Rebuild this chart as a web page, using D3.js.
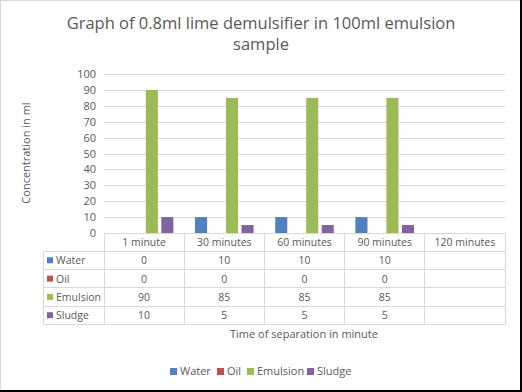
<!DOCTYPE html>
<html>
<head>
<meta charset="utf-8">
<script src="https://cdn.jsdelivr.net/npm/d3@7"></script>
<style>
  body { margin: 0; background: #fff; }
  svg text { font-family: "Open Sans", "Liberation Sans", sans-serif; fill: #595959; }
</style>
</head>
<body>
<div id="chart"></div>
<script>
// chart data
const categories = ["1 minute", "30 minutes", "60 minutes", "90 minutes", "120 minutes"];
const seriesNames = ["Water", "Oil", "Emulsion", "Sludge"];
const water    = [0, 10, 10, 10, null];
const oil      = [0, 0, 0, 0, null];
const emulsion = [90, 85, 85, 85, null];
const sludge   = [10, 5, 5, 5, null];
const yTicks = [0, 10, 20, 30, 40, 50, 60, 70, 80, 90, 100];

const seriesValues = [water, oil, emulsion, sludge];
const colors = ["#4F81BD", "#C0504D", "#9BBB59", "#8064A2"];

const W = 522, H = 392;
const svg = d3.select("#chart").append("svg")
    .attr("width", W)
    .attr("height", H);

svg.append("rect").attr("width", W).attr("height", H).attr("fill", "#fff");

// outer border
svg.append("rect")
    .attr("x", 0.5).attr("y", 0.5)
    .attr("width", W - 2).attr("height", H - 2)
    .attr("fill", "none").attr("stroke", "#d9d9d9");
svg.append("line").attr("x1", W - 1).attr("x2", W - 1).attr("y1", 0).attr("y2", H)
    .attr("stroke", "#000").attr("stroke-width", 2);
svg.append("line").attr("x1", 0).attr("x2", W).attr("y1", H - 1).attr("y2", H - 1)
    .attr("stroke", "#000").attr("stroke-width", 2);

// title
svg.append("text")
    .attr("x", 261).attr("y", 29)
    .attr("text-anchor", "middle")
    .style("font-size", "16.5px")
    .text("Graph of 0.8ml lime demulsifier in 100ml emulsion");
svg.append("text")
    .attr("x", 261).attr("y", 50)
    .attr("text-anchor", "middle")
    .style("font-size", "16.5px")
    .text("sample");

const plot = { left: 104, right: 505, top: 74, bottom: 233 };

const x = d3.scaleBand()
    .domain(categories)
    .range([plot.left, plot.right])
    .padding(0);

const xs = d3.scaleBand()
    .domain(seriesNames)
    .range([10.8, x.bandwidth() - 10.8])
    .paddingInner(0.22);

const y = d3.scaleLinear()
    .domain([0, 100])
    .range([plot.bottom, plot.top]);

// gridlines
svg.append("g")
    .selectAll("line")
    .data(yTicks.filter(d => d > 0))
    .join("line")
    .attr("x1", plot.left).attr("x2", plot.right)
    .attr("y1", d => Math.round(y(d)) + 0.5).attr("y2", d => Math.round(y(d)) + 0.5)
    .attr("stroke", "#d9d9d9");

// y axis labels
const yAxis = d3.axisLeft(y).tickValues(yTicks).tickSize(0).tickPadding(8);
const yg = svg.append("g")
    .attr("transform", `translate(${plot.left},0)`)
    .call(yAxis);
yg.select(".domain").remove();
yg.selectAll("text").style("font-size", "11px").attr("fill", "#595959");

// y axis title
svg.append("text")
    .attr("transform", "translate(30,153) rotate(-90)")
    .attr("text-anchor", "middle")
    .style("font-size", "11px")
    .text("Concentration in ml");

// bars
seriesNames.forEach((name, si) => {
    svg.append("g")
        .selectAll("rect")
        .data(categories.map((c, i) => ({ c, v: seriesValues[si][i] })).filter(d => d.v !== null && d.v > 0))
        .join("rect")
        .attr("x", d => x(d.c) + xs(name))
        .attr("width", xs.bandwidth())
        .attr("y", d => y(d.v))
        .attr("height", d => y(0) - y(d.v))
        .attr("fill", colors[si]);
});

// data table
const rowH = 18.3;
const tableTop = plot.bottom;
const headerBottom = tableTop + rowH;
const tableBottom = headerBottom + rowH * seriesNames.length;
const labelLeft = 43;
const grid = svg.append("g").attr("stroke", "#d9d9d9").attr("shape-rendering", "crispEdges");

// axis line at zero (top of table)
grid.append("line")
    .attr("x1", plot.left).attr("x2", plot.right)
    .attr("y1", tableTop).attr("y2", tableTop);
// horizontal row lines
d3.range(seriesNames.length + 1).forEach(i => {
    const yy = headerBottom + i * rowH;
    grid.append("line")
        .attr("x1", labelLeft).attr("x2", plot.right)
        .attr("y1", yy).attr("y2", yy);
});
// vertical lines
grid.append("line")
    .attr("x1", labelLeft).attr("x2", labelLeft)
    .attr("y1", headerBottom).attr("y2", tableBottom);
categories.concat([null]).forEach((c, i) => {
    const xx = c === null ? plot.right : x(c);
    grid.append("line")
        .attr("x1", xx).attr("x2", xx)
        .attr("y1", tableTop).attr("y2", tableBottom);
});

// header labels
svg.append("g")
    .selectAll("text")
    .data(categories)
    .join("text")
    .attr("x", d => x(d) + x.bandwidth() / 2)
    .attr("y", tableTop + 13)
    .attr("text-anchor", "middle")
    .style("font-size", "10.5px")
    .text(d => d);

// rows
seriesNames.forEach((name, si) => {
    const rowTop = headerBottom + si * rowH;
    svg.append("rect")
        .attr("x", 47).attr("y", rowTop + 6)
        .attr("width", 6).attr("height", 6)
        .attr("fill", colors[si]);
    svg.append("text")
        .attr("x", 56).attr("y", rowTop + 13)
        .style("font-size", "10.5px")
        .text(name);
    svg.append("g")
        .selectAll("text")
        .data(categories.map((c, i) => ({ c, v: seriesValues[si][i] })).filter(d => d.v !== null))
        .join("text")
        .attr("x", d => x(d.c) + x.bandwidth() / 2)
        .attr("y", rowTop + 13)
        .attr("text-anchor", "middle")
        .style("font-size", "10.5px")
        .text(d => d.v);
});

// x axis title
svg.append("text")
    .attr("x", 304).attr("y", 338)
    .attr("text-anchor", "middle")
    .style("font-size", "11px")
    .text("Time of separation in minute");

// legend
const legendX = [170, 217, 247, 307];
const legend = svg.append("g");
seriesNames.forEach((name, si) => {
    legend.append("rect")
        .attr("x", legendX[si]).attr("y", 368)
        .attr("width", 7).attr("height", 7)
        .attr("fill", colors[si]);
    legend.append("text")
        .attr("x", legendX[si] + 10).attr("y", 375)
        .style("font-size", "11px")
        .text(name);
});
</script>
</body>
</html>
